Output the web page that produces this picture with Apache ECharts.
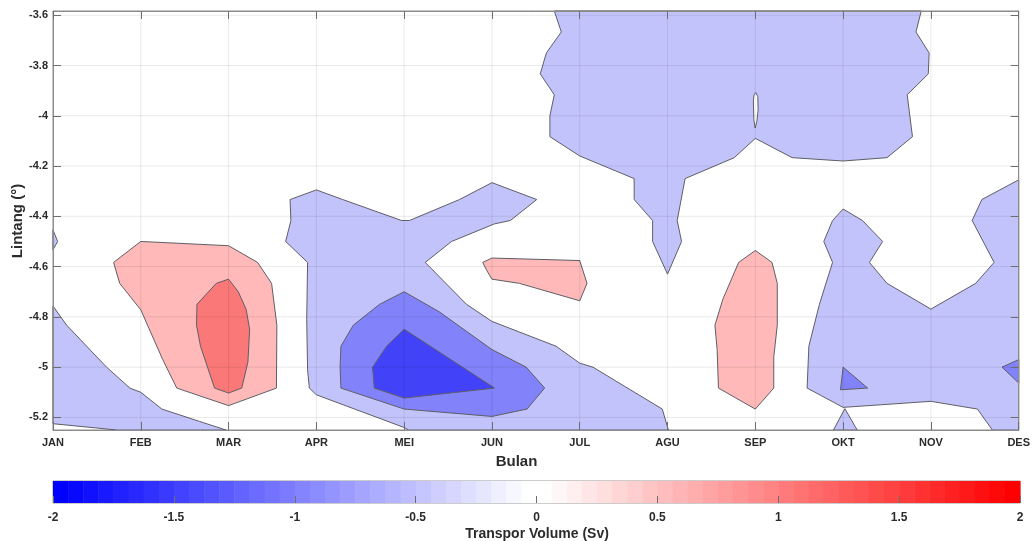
<!DOCTYPE html>
<html>
<head>
<meta charset="utf-8">
<script src="https://cdn.jsdelivr.net/npm/echarts@6/dist/echarts.min.js"></script>
<style>html,body{margin:0;padding:0;background:#fff}#chart{width:1033px;height:541px}</style>
</head>
<body>
<div id="chart"></div>
<script>
// ---------- DATA ----------
const months = ['JAN','FEB','MAR','APR','MEI','JUN','JUL','AGU','SEP','OKT','NOV','DES'];
const latTicks = [-5.2, -5, -4.8, -4.6, -4.4, -4.2, -4, -3.8, -3.6];
const latMin = -5.25, latMax = -3.5833;
const cbTicks = [-2, -1.5, -1, -0.5, 0, 0.5, 1, 1.5, 2];

// contour polygons [month, latitude]
const polyTopAgu = [[6.71,-3.5833],[6.79,-3.6667],[6.62,-3.75],[6.55,-3.8333],[6.71,-3.9167],[6.66,-4.0],[6.66,-4.0833],[7.0,-4.16],[7.62,-4.25],[7.62,-4.3333],[7.83,-4.4167],[7.83,-4.5],[8.0,-4.63],[8.16,-4.5],[8.11,-4.4167],[8.2,-4.25],[8.76,-4.1667],[9.0,-4.09],[9.42,-4.1667],[10.0,-4.18],[10.5,-4.1667],[10.79,-4.0833],[10.73,-3.9167],[10.97,-3.8333],[10.98,-3.75],[10.83,-3.6667],[10.89,-3.5833]];
const polyAprJun = [[3.70,-4.3333],[4.0,-4.295],[4.30,-4.3333],[4.97,-4.4167],[5.06,-4.4167],[5.63,-4.3333],[6.0,-4.266],[6.51,-4.3333],[6.21,-4.4167],[6.03,-4.43],[5.54,-4.5],[5.24,-4.5833],[5.71,-4.75],[6.0,-4.818],[6.73,-4.9167],[7.0,-4.984],[7.15,-5.0],[7.94,-5.1667],[8.01,-5.25],[5.05,-5.25],[5.0,-5.24],[4.0,-5.11],[3.92,-5.0833],[3.90,-5.01],[3.89,-4.81],[3.90,-4.5833],[3.65,-4.5],[3.71,-4.4167]];
const polyJanBottom = [[1.0,-4.757],[1.156,-4.8333],[1.61,-5.0],[1.876,-5.0833],[2.0,-5.10],[2.24,-5.1667],[2.67,-5.216],[2.97,-5.25],[1.73,-5.25],[1.0,-5.225]];
const polyJanTip = [[1.0,-4.454],[1.053,-4.5],[1.0,-4.533]];
const polyOktDes = [[10.0,-4.371],[10.22,-4.4167],[10.45,-4.5],[10.3,-4.5833],[10.5,-4.6667],[11.0,-4.769],[11.51,-4.6667],[11.72,-4.5833],[11.47,-4.4167],[11.58,-4.3333],[12.0,-4.255],[12.0,-5.25],[11.7,-5.25],[11.53,-5.1667],[11.0,-5.136],[10.0,-5.16],[9.59,-5.0833],[9.61,-4.9167],[9.73,-4.75],[9.88,-4.5833],[9.78,-4.5],[9.88,-4.4167]];
const polyOktTri = [[10.02,-5.165],[10.16,-5.25],[9.89,-5.25]];
const polyMeiMed = [[5.0,-4.70],[5.4,-4.78],[6.0,-4.93],[6.39,-5.0],[6.6,-5.0833],[6.4,-5.1667],[6.0,-5.196],[5.0,-5.1667],[4.28,-5.0833],[4.27,-5.0],[4.28,-4.9167],[4.42,-4.8333],[4.72,-4.75]];
const polyOktMed = [[10.0,-5.0],[10.28,-5.0833],[9.97,-5.09]];
const polyDesMed = [[11.81,-5.0],[12.0,-4.97],[12.0,-5.063]];
const polyMeiDark = [[5.0,-4.849],[4.8,-4.9167],[4.64,-5.0],[4.66,-5.0833],[5.0,-5.123],[6.03,-5.0833]];
const polyFebMar = [[2.0,-4.5],[3.0,-4.517],[3.33,-4.5833],[3.49,-4.6667],[3.55,-4.8333],[3.545,-5.0833],[3.0,-5.153],[2.41,-5.0833],[2.25,-4.97],[2.0,-4.772],[1.76,-4.6667],[1.69,-4.5833]];
const polyMarRed = [[3.0,-4.65],[3.11,-4.70],[3.2,-4.77],[3.24,-4.85],[3.22,-4.98],[3.15,-5.0833],[3.0,-5.103],[2.84,-5.0833],[2.68,-4.9167],[2.635,-4.8333],[2.64,-4.75],[2.86,-4.6667]];
const polyJunJul = [[5.895,-4.5833],[6.0,-4.566],[7.0,-4.576],[7.083,-4.6667],[7.0,-4.736],[6.313,-4.6667],[6.0,-4.65],[5.94,-4.615]];
const polySep = [[9.0,-4.536],[8.81,-4.5833],[8.63,-4.73],[8.54,-4.8333],[8.565,-4.93],[8.58,-5.0833],[9.0,-5.1667],[9.21,-5.0833],[9.21,-4.96],[9.25,-4.8333],[9.25,-4.6667],[9.19,-4.5833]];
const polyHoleSep = [[9.005,-3.908],[9.028,-3.924],[9.032,-3.977],[9.017,-4.023],[8.998,-4.049],[8.983,-4.016],[8.978,-3.937],[8.986,-3.917]];

// level (Sv) of each polygon, drawn in this order
const contourList = [
  {level: -0.5, pts: polyTopAgu},
  {level: -0.5, pts: polyAprJun},
  {level: -0.5, pts: polyJanBottom},
  {level: -0.5, pts: polyJanTip},
  {level: -0.5, pts: polyOktDes},
  {level: -0.5, pts: polyOktTri},
  {level: -1, pts: polyMeiMed},
  {level: -1, pts: polyOktMed},
  {level: -1, pts: polyDesMed},
  {level: -1.5, pts: polyMeiDark},
  {level: 0.5, pts: polyFebMar},
  {level: 1, pts: polyMarRed},
  {level: 0.5, pts: polyJunJul},
  {level: 0.5, pts: polySep},
  {level: 0, pts: polyHoleSep}
];

// ---------- STYLE ----------
const levelColor = {'-1.5': '#4242f8', '-1': '#8282fa', '-0.5': '#c3c3fc', '0': '#ffffff', '0.5': '#ffb9b9', '1': '#fb7878'};
const FONT = 'Liberation Sans, Arial, sans-serif';
const TXT = '#2b2b2b';

function cmap(i) { // 64-step blue-white-red colormap
  if (i < 32) { const f = Math.round(i / 31 * 255); return `rgb(${f},${f},255)`; }
  const f = Math.round((63 - i) / 31 * 255); return `rgb(255,${f},${f})`;
}
const cbCells = [];
for (let i = 0; i < 64; i++) cbCells.push([-2 + i * 4 / 64, -2 + (i + 1) * 4 / 64, i]);

const gridLinesData = [];
for (let m = 2; m <= 11; m++) gridLinesData.push([m, 0]);
latTicks.forEach(v => gridLinesData.push([v, 1]));

const chart = echarts.init(document.getElementById('chart'), null, {renderer: 'canvas'});
const tickLabelStyle = {fontFamily: FONT, fontWeight: 'bold', fontSize: 11, color: TXT};
const axisLineStyle = {lineStyle: {color: '#8c8c8c', width: 1}};
const tickStyle = {lineStyle: {color: '#6e6e6e', width: 1}};

chart.setOption({
  animation: false,
  backgroundColor: '#fff',
  grid: [
    {left: 53, top: 11, width: 967, height: 419, show: true, borderColor: '#8c8c8c', borderWidth: 1, backgroundColor: '#fff'},
    {left: 53, top: 481, width: 967, height: 22, show: true, borderColor: '#999', borderWidth: 1}
  ],
  xAxis: [
    {gridIndex: 0, type: 'value', min: 1, max: 12, interval: 1, position: 'bottom', z: 10,
     axisLine: axisLineStyle, axisTick: Object.assign({inside: true, length: 8}, tickStyle),
     axisLabel: Object.assign({margin: 7, formatter: v => months[Math.round(v) - 1] || ''}, tickLabelStyle),
     splitLine: {show: false}},
    {gridIndex: 0, type: 'value', min: 1, max: 12, interval: 1, position: 'top', z: 10,
     axisLine: axisLineStyle, axisTick: Object.assign({inside: true, length: 8}, tickStyle),
     axisLabel: {show: false}, splitLine: {show: false}},
    {gridIndex: 1, type: 'value', min: -2, max: 2, interval: 0.5, position: 'bottom', z: 10,
     axisLine: {show: false}, axisTick: Object.assign({inside: true, length: 7}, tickStyle),
     axisLabel: Object.assign({margin: 9, formatter: v => String(v)}, tickLabelStyle, {fontSize: 12}),
     splitLine: {show: false}}
  ],
  yAxis: [
    {gridIndex: 0, type: 'value', min: latMin, max: latMax, position: 'left', z: 10,
     axisLine: axisLineStyle,
     axisTick: Object.assign({inside: true, length: 8, customValues: latTicks}, tickStyle),
     axisLabel: Object.assign({margin: 5, customValues: latTicks, formatter: v => String(Math.round(v * 10) / 10)}, tickLabelStyle),
     splitLine: {show: false}},
    {gridIndex: 0, type: 'value', min: latMin, max: latMax, position: 'right', z: 10,
     axisLine: axisLineStyle,
     axisTick: Object.assign({inside: true, length: 8, customValues: latTicks}, tickStyle),
     axisLabel: {show: false}, splitLine: {show: false}},
    {gridIndex: 1, type: 'value', min: 0, max: 1, show: false}
  ],
  graphic: [
    {type: 'text', left: 'center', x: 536, y: 462, style: {text: 'Bulan', font: `bold 15px ${FONT}`, fill: TXT, textAlign: 'center', textVerticalAlign: 'middle'}},
    {type: 'text', x: 18, y: 221, rotation: Math.PI / 2, style: {text: 'Lintang (°)', font: `bold 15px ${FONT}`, fill: TXT, textAlign: 'center', textVerticalAlign: 'middle'}},
    {type: 'text', x: 537, y: 534, style: {text: 'Transpor Volume (Sv)', font: `bold 14px ${FONT}`, fill: TXT, textAlign: 'center', textVerticalAlign: 'middle'}}
  ],
  series: [
    {type: 'custom', name: 'contours', xAxisIndex: 0, yAxisIndex: 0, z: 2, silent: true,
     data: contourList.map((c, i) => [c.pts[0][0], c.pts[0][1], i]),
     renderItem: (params, api) => {
       const c = contourList[params.dataIndex];
       return {type: 'polygon', shape: {points: c.pts.map(p => api.coord(p))},
               style: {fill: levelColor[String(c.level)], stroke: '#5e5e66', lineWidth: 1}};
     }},
    {type: 'custom', name: 'gridlines', xAxisIndex: 0, yAxisIndex: 0, z: 3, silent: true,
     data: gridLinesData,
     renderItem: (params, api) => {
       const v = api.value(0), kind = api.value(1);
       const a = kind === 0 ? api.coord([v, latMin]) : api.coord([1, v]);
       const b = kind === 0 ? api.coord([v, latMax]) : api.coord([12, v]);
       return {type: 'line', shape: {x1: a[0], y1: a[1], x2: b[0], y2: b[1]},
               style: {stroke: 'rgba(0,0,0,0.085)', lineWidth: 1}};
     }},
    {type: 'custom', name: 'colorbar', xAxisIndex: 2, yAxisIndex: 2, z: 2, silent: true,
     data: cbCells,
     renderItem: (params, api) => {
       const p0 = api.coord([api.value(0), 0]);
       const p1 = api.coord([api.value(1), 1]);
       return {type: 'rect', shape: {x: p0[0], y: p1[1], width: p1[0] - p0[0] + 0.5, height: p0[1] - p1[1]},
               style: {fill: cmap(api.value(2))}};
     }}
  ]
});
</script>
</body>
</html>
